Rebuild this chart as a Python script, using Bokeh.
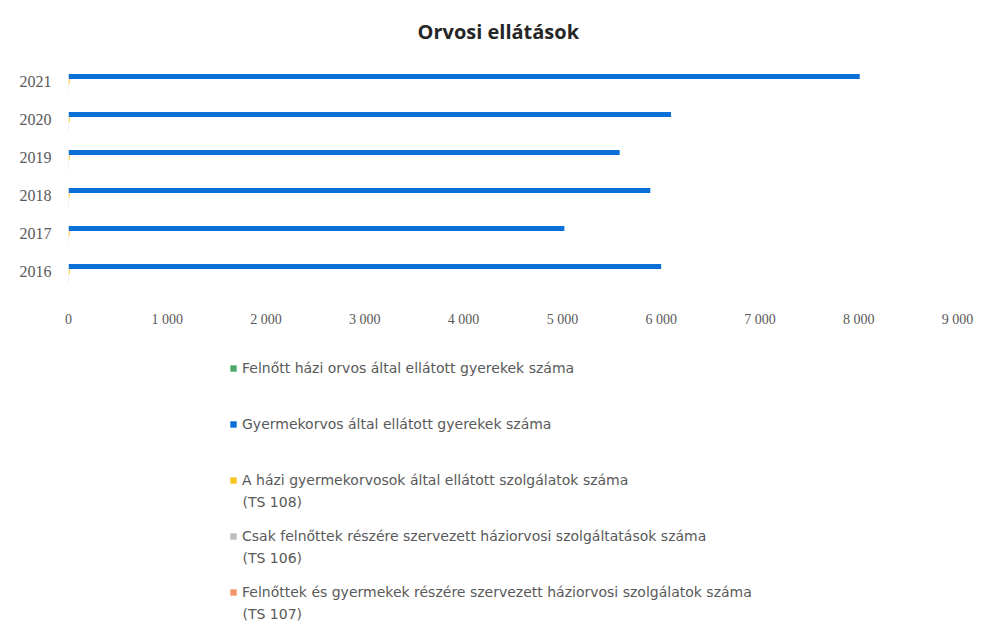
from bokeh.plotting import figure
from bokeh.layouts import column
from bokeh.models import (ColumnDataSource, FactorRange, Range1d, FixedTicker,
                          Legend, LegendItem, Label)
from bokeh.transform import dodge
from bokeh.embed import file_html
from bokeh.resources import INLINE

# ---- data ----
years = ["2016", "2017", "2018", "2019", "2020", "2021"]
felnott_orvos_gyerek = [0, 0, 0, 0, 0, 0]
gyermekorvos_gyerek = [6000, 5020, 5890, 5580, 6100, 8010]
ts108 = [12, 12, 12, 12, 12, 12]
ts106 = [4, 4, 4, 4, 4, 4]
ts107 = [3, 3, 3, 3, 3, 3]

x_ticks = [0, 1000, 2000, 3000, 4000, 5000, 6000, 7000, 8000, 9000]
x_tick_labels = ["0", "1 000", "2 000", "3 000", "4 000", "5 000",
                 "6 000", "7 000", "8 000", "9 000"]

series_names = [
    "Felnőtt házi orvos által ellátott gyerekek száma",
    "Gyermekorvos által ellátott gyerekek száma",
    "A házi gyermekorvosok által ellátott szolgálatok száma",
    "Csak felnőttek részére szervezett háziorvosi szolgáltatások száma",
    "Felnőttek és gyermekek részére szervezett háziorvosi szolgálatok száma",
]
second_lines = ["", "", "(TS 108)", "(TS 106)", "(TS 107)"]

src = ColumnDataSource(dict(year=years, s0=felnott_orvos_gyerek,
                            s1=gyermekorvos_gyerek, s2=ts108, s3=ts106, s4=ts107))

colors = ["#4EA86A", "#0A70D8", "#F7C523", "#BDBDBD", "#F4956A"]
offsets = [0.26, 0.13, 0.0, -0.13, -0.26]

W = 983
p = figure(width=W, height=340,
           y_range=FactorRange(factors=years), x_range=Range1d(0, 9000),
           output_backend="svg", toolbar_location=None,
           min_border_left=68, min_border_right=26,
           min_border_top=62, min_border_bottom=50)

p.title.text = "Orvosi ellátások"
p.title.text_font = "Open Sans"
p.title.text_font_style = "bold"
p.title.text_font_size = "20px"
p.title.text_color = "#262626"
p.title.align = "left"
p.title.offset = 349
p.title.vertical_align = "top"
p.title.standoff = 32

for i, (c, off) in enumerate(zip(colors, offsets)):
    p.hbar(y=dodge("year", off, range=p.y_range), left=0, right="s%d" % i,
           height=0.13, fill_color=c, line_color=None, source=src)

p.outline_line_color = None
p.xgrid.visible = False
p.ygrid.visible = False

xa = p.xaxis[0]
xa.ticker = FixedTicker(ticks=x_ticks)
xa.major_label_overrides = {t: l for t, l in zip(x_ticks, x_tick_labels)}
xa.axis_line_color = None
xa.major_tick_line_color = None
xa.minor_tick_line_color = None
xa.major_label_standoff = 15
xa.major_label_text_font = "Liberation Serif"
xa.major_label_text_font_size = "14px"
xa.major_label_text_color = "#595959"

ya = p.yaxis[0]
ya.axis_line_color = None
ya.major_tick_line_color = None
ya.minor_tick_line_color = None
ya.major_label_standoff = 11
ya.major_label_text_font = "Liberation Serif"
ya.major_label_text_font_size = "16px"
ya.major_label_text_color = "#595959"

# ---- legend panel (separate figure below the chart) ----
H2 = 282
q = figure(width=W, height=H2, x_range=Range1d(0, 1), y_range=Range1d(0, 1),
           output_backend="svg", toolbar_location=None,
           min_border_left=68, min_border_right=26, min_border_top=0, min_border_bottom=0)
q.axis.visible = False
q.grid.visible = False
q.outline_line_color = None

nan = float("nan")
dummy = []
for c in colors:
    dummy.append(q.hbar(y=[nan], right=[nan], left=0, height=1, fill_color=c, line_color=None))

legend = Legend(items=[LegendItem(label=n, renderers=[r]) for n, r in zip(series_names, dummy)],
                location=(161, 20), orientation="vertical",
                glyph_width=8, glyph_height=8, label_height=20, spacing=36,
                padding=0, margin=0, label_standoff=5,
                border_line_alpha=0, background_fill_alpha=0,
                label_text_font="DejaVu Sans", label_text_font_size="14px",
                label_text_color="#595959")
q.add_layout(legend)

second_y = [0, 0, 121, 65, 9]
for txt, yy in zip(second_lines, second_y):
    if txt:
        q.add_layout(Label(x=174, y=yy, x_units="screen", y_units="screen", text=txt,
                           text_baseline="middle", text_font="DejaVu Sans",
                           text_font_size="14px", text_color="#595959"))

layout = column(p, q, spacing=0)
open("out.html", "w").write(file_html(layout, INLINE))
